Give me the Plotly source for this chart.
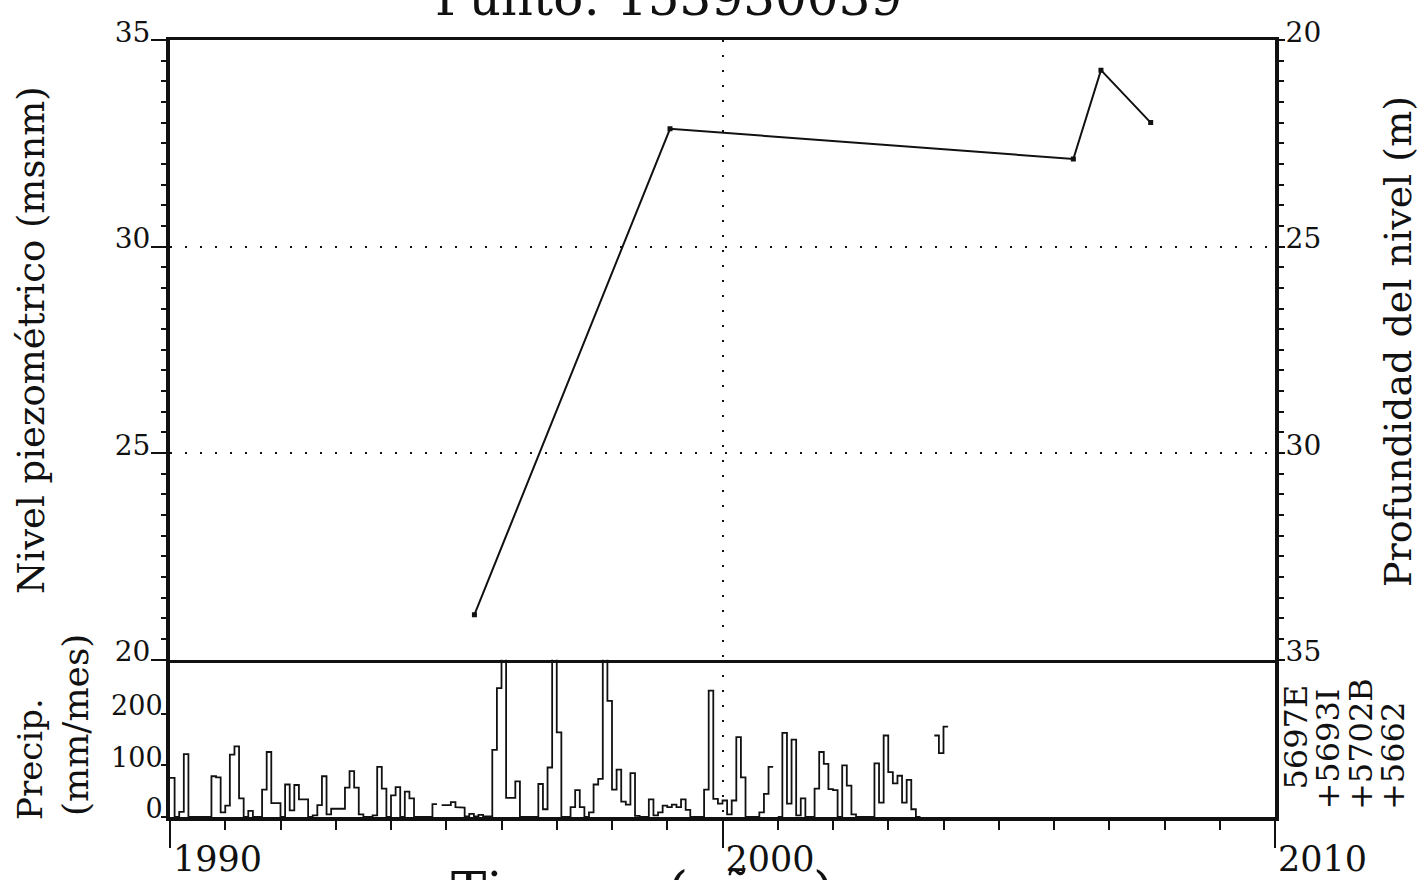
import plotly.graph_objects as go

# ---------------- data ----------------
title_text = "Punto: 153930039"
x_title = "Tiempo (años)"
left_title = "Nivel piezométrico (msnm)"
right_title = "Profundidad del nivel (m)"
precip_title_1 = "Precip."
precip_title_2 = "(mm/mes)"
station_labels = ["5697E", "+5693I", "+5702B", "+5662"]

# piezometric level (decimal year, m a.s.l.)
level_dates = [1995.51, 1999.05, 2006.35, 2006.85, 2007.75]
level_msnm = [21.09, 32.85, 32.12, 34.27, 33.0]
ground_elev = 55.0  # depth = ground_elev - level

# monthly precipitation (mm/month), January..December; None = no data
precip_start_year = 1990
precip_1990 = [76, 0, 10, 122, 0, 0, 0, 0, 0, 79, 77, 9]
precip_1991 = [22, 121, 137, 36, 0, 12, 0, 0, 53, 126, 27, 27]
precip_1992 = [0, 63, 13, 62, 34, 34, 0, 3, 23, 79, 5, 16]
precip_1993 = [16, 16, 57, 89, 57, 5, 0, 0, 3, 97, 55, 0]
precip_1994 = [42, 58, 0, 49, 36, 0, 0, 0, 0, 25, None, 23]
precip_1995 = [23, 29, 19, 18, 1, 6, 1, 4, 1, 1, 130, 250]
precip_1996 = [380, 37, 37, 69, 0, 0, 0, 0, 64, 15, 96, 360]
precip_1997 = [164, 0, 0, 19, 52, 19, 0, 9, 63, 74, 400, 225]
precip_1998 = [53, 92, 30, 24, 85, 2, 0, 0, 34, 3, 9, 22]
precip_1999 = [19, 24, 19, 34, 14, 0, 0, 0, 53, 245, 35, 26]
precip_2000 = [32, 5, 32, 155, 77, 0, 0, 0, 9, 45, 97, None]
precip_2001 = [0, 163, 26, 150, 3, 36, 0, 0, 55, 126, 103, 54]
precip_2002 = [52, 0, 100, 61, 5, 0, 0, 0, 0, 104, 28, 158]
precip_2003 = [87, 65, 80, 28, 72, 15, 0, None, None, None, 158, 124]
precip_2004 = [175]

level_ticks = [20, 25, 30, 35]
depth_ticks = [20, 25, 30, 35]
precip_ticks = [0, 100, 200]
year_ticks = [1990, 2000, 2010]

# ---------------- build ----------------
precip_all = (precip_1990 + precip_1991 + precip_1992 + precip_1993 + precip_1994 +
              precip_1995 + precip_1996 + precip_1997 + precip_1998 + precip_1999 +
              precip_2000 + precip_2001 + precip_2002 + precip_2003 + precip_2004)

step_x, step_y = [], []
for i, v in enumerate(precip_all):
    x0 = precip_start_year + i / 12.0
    x1 = precip_start_year + (i + 1) / 12.0
    if v is None:
        step_x.append(None)
        step_y.append(None)
    else:
        step_x += [x0, x1]
        step_y += [v, v]

depth_vals = [ground_elev - v for v in level_msnm]

W, H = 1420, 880
ML, MR, MT, MB = 170, 145, 40, 63
PW, PH = W - ML - MR, H - MT - MB
SPLIT = 0.2025

def pxx(px):
    return (px - ML) / PW

def pxy(py):
    return (H - MB - py) / PH

FONT = "DejaVu Serif"
INK = "#111111"
DOT = "2px,13px"
xr = [year_ticks[0], year_ticks[-1]]

fig = go.Figure()
fig.add_trace(go.Scatter(x=step_x, y=step_y, mode="lines", connectgaps=False,
                         line=dict(color=INK, width=1.8), xaxis="x", yaxis="y",
                         hoverinfo="skip", showlegend=False))
fig.add_trace(go.Scatter(x=level_dates, y=level_msnm, mode="lines+markers",
                         line=dict(color=INK, width=2),
                         marker=dict(symbol="square", size=5, color=INK),
                         xaxis="x2", yaxis="y2", showlegend=False))
fig.add_trace(go.Scatter(x=level_dates, y=depth_vals, mode="lines", opacity=0,
                         xaxis="x2", yaxis="y3", hoverinfo="skip", showlegend=False))

fig.update_layout(
    width=W, height=H,
    margin=dict(l=ML, r=MR, t=MT, b=MB, autoexpand=False),
    paper_bgcolor="white", plot_bgcolor="white",
    font=dict(family=FONT, color=INK),
    showlegend=False,
    xaxis=dict(domain=[0, 1], anchor="y", range=xr, automargin=False,
               tickmode="linear", tick0=year_ticks[0], dtick=year_ticks[1] - year_ticks[0],
               ticks="outside", ticklen=27, tickwidth=2, tickcolor=INK,
               ticklabelposition="outside right", ticklabelstandoff=8,
               tickfont=dict(family=FONT, size=35, color=INK),
               showline=True, linewidth=4, linecolor=INK, mirror=False,
               showgrid=True, gridcolor=INK, gridwidth=1.6, griddash=DOT,
               zeroline=False,
               minor=dict(tickmode="linear", tick0=1990, dtick=1, ticks="outside",
                          ticklen=9, tickwidth=2, tickcolor=INK, showgrid=False)),
    xaxis2=dict(domain=[0, 1], anchor="y2", range=xr, automargin=False,
                tickmode="linear", tick0=year_ticks[0], dtick=year_ticks[1] - year_ticks[0],
                ticks="", showticklabels=False,
                showline=True, linewidth=3, linecolor=INK, mirror=True,
                showgrid=True, gridcolor=INK, gridwidth=1.6, griddash=DOT,
                zeroline=False),
    yaxis=dict(domain=[0, SPLIT], anchor="x", range=[0, 305], automargin=False,
               tickmode="array", tickvals=precip_ticks,
               ticks="outside", ticklen=5, tickwidth=2, tickcolor=INK,
               ticklabelshift=-8, ticklabelstandoff=-7,
               tickfont=dict(family=FONT, size=27, color=INK),
               showline=True, linewidth=4, linecolor=INK, mirror=True,
               showgrid=False, zeroline=False),
    yaxis2=dict(domain=[SPLIT, 1], anchor="x2", range=[20, 35], automargin=False,
                tickmode="array", tickvals=level_ticks,
                ticks="outside", ticklen=15, tickwidth=2, tickcolor=INK,
                ticklabelshift=-8, ticklabelstandoff=-5,
                tickfont=dict(family=FONT, size=28, color=INK),
                showline=True, linewidth=4, linecolor=INK,
                showgrid=True, gridcolor=INK, gridwidth=1.6, griddash=DOT,
                zeroline=False,
                minor=dict(tickmode="linear", tick0=20, dtick=0.5, ticks="outside",
                           ticklen=5, tickwidth=1.5, tickcolor=INK, showgrid=False)),
    yaxis3=dict(overlaying="y2", side="right", anchor="x2", range=[35, 20], automargin=False,
                tickmode="array", tickvals=depth_ticks,
                ticks="outside", ticklen=6, tickwidth=2, tickcolor=INK,
                ticklabelshift=8, ticklabelstandoff=-5,
                tickfont=dict(family=FONT, size=28, color=INK),
                showline=True, linewidth=4, linecolor=INK,
                showgrid=False, zeroline=False,
                minor=dict(tickmode="linear", tick0=20, dtick=0.5, ticks="outside",
                           ticklen=5, tickwidth=1.5, tickcolor=INK, showgrid=False)),
)

ann = []
# title (partly cut at top edge, as in the reference)
ann.append(dict(text=title_text, xref="paper", yref="paper", x=pxx(668), y=pxy(-2),
                xanchor="center", yanchor="middle", showarrow=False,
                font=dict(family=FONT, size=50, color=INK)))
# x title (partly cut at bottom edge)
ann.append(dict(text=x_title, xref="paper", yref="paper", x=pxx(642), y=pxy(890),
                xanchor="center", yanchor="middle", showarrow=False,
                font=dict(family=FONT, size=53, color=INK)))
# left titles
ann.append(dict(text=left_title, xref="paper", yref="paper", x=pxx(31), y=pxy(340),
                xanchor="center", yanchor="middle", textangle=-90, showarrow=False,
                font=dict(family=FONT, size=37, color=INK)))
ann.append(dict(text=precip_title_1, xref="paper", yref="paper", x=pxx(30), y=pxy(759),
                xanchor="center", yanchor="middle", textangle=-90, showarrow=False,
                font=dict(family=FONT, size=34, color=INK)))
ann.append(dict(text=precip_title_2, xref="paper", yref="paper", x=pxx(75), y=pxy(725),
                xanchor="center", yanchor="middle", textangle=-90, showarrow=False,
                font=dict(family=FONT, size=36, color=INK)))
# right title
ann.append(dict(text=right_title, xref="paper", yref="paper", x=pxx(1398), y=pxy(342),
                xanchor="center", yanchor="middle", textangle=-90, showarrow=False,
                font=dict(family=FONT, size=38, color=INK)))
# station labels
st_x = [1295, 1327, 1361, 1393]
st_bottom = [792, 812, 812, 812]
for lab, sx, sb in zip(station_labels, st_x, st_bottom):
    ann.append(dict(text=lab, xref="paper", yref="paper", x=pxx(sx), y=pxy(sb),
                    xanchor="center", yanchor="bottom", textangle=-90, showarrow=False,
                    font=dict(family=FONT, size=32, color=INK)))
fig.update_layout(annotations=ann)

fig.write_html("out.html",
               config={"displayModeBar": False},
               post_script="document.body.style.margin='0px';"
                           "document.body.style.overflow='hidden';")
